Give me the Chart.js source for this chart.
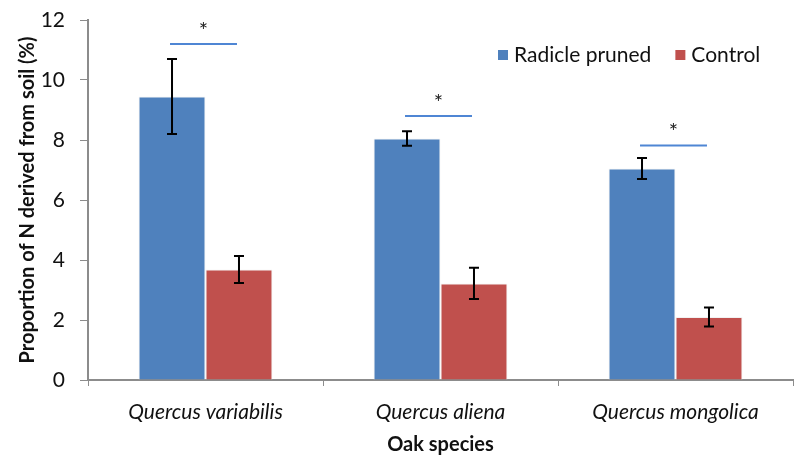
<!DOCTYPE html>
<html lang="en">
<head>
    <meta charset="UTF-8">
    <title>Proportion of N derived from soil</title>
    <script src="https://cdn.jsdelivr.net/npm/chart.js"></script>
    <style>
        html, body { margin: 0; padding: 0; background: #fff; }
        #wrap { position: relative; width: 794px; height: 455px; }
    </style>
</head>
<body>
    <div id="wrap">
        <canvas id="nChart" width="794" height="455"></canvas>
    </div>

    <script>
        // values
        const species = ['Quercus variabilis', 'Quercus aliena', 'Quercus mongolica'];
        const pruned = [9.45, 8.05, 7.05];
        const prunedErr = [1.25, 0.24, 0.35];
        const control = [3.68, 3.22, 2.1];
        const controlErr = [0.45, 0.52, 0.32];
        const sigLevel = [11.2, 8.8, 7.82];   // height of the "*" bars
        const yTicks = [0, 2, 4, 6, 8, 10, 12];

        const BLUE = '#4F81BD';
        const RED = '#C0504D';
        const AXIS = '#8c8c8c';
        const FONT = 'Lato, "Open Sans", sans-serif';

        const errs = [prunedErr, controlErr];

        // error bars + significance markers + legend inside the plot
        const extras = {
            id: 'extras',
            afterDatasetsDraw(chart) {
                const ctx = chart.ctx;
                const y = chart.scales.y;
                ctx.save();

                // error bars
                ctx.strokeStyle = '#000';
                ctx.lineWidth = 2;
                chart.data.datasets.forEach((ds, di) => {
                    chart.getDatasetMeta(di).data.forEach((bar, i) => {
                        const v = ds.data[i], e = errs[di][i];
                        const top = y.getPixelForValue(v + e);
                        const bot = y.getPixelForValue(v - e);
                        ctx.beginPath();
                        ctx.moveTo(bar.x, top); ctx.lineTo(bar.x, bot);
                        ctx.moveTo(bar.x - 5, top); ctx.lineTo(bar.x + 5, top);
                        ctx.moveTo(bar.x - 5, bot); ctx.lineTo(bar.x + 5, bot);
                        ctx.stroke();
                    });
                });

                // significance lines
                const m0 = chart.getDatasetMeta(0).data;
                const m1 = chart.getDatasetMeta(1).data;
                ctx.strokeStyle = '#4F86D4';
                ctx.lineWidth = 2;
                ctx.fillStyle = '#222';
                ctx.font = '22px ' + FONT;
                ctx.textAlign = 'center';
                ctx.textBaseline = 'middle';
                sigLevel.forEach((lv, i) => {
                    const py = y.getPixelForValue(lv);
                    const x1 = m0[i].x - 2, x2 = m1[i].x - 2;
                    ctx.beginPath();
                    ctx.moveTo(x1, py); ctx.lineTo(x2, py);
                    ctx.stroke();
                    ctx.fillText('*', (x1 + x2) / 2, py - 13);
                });

                // legend
                ctx.font = '21px ' + FONT;
                ctx.textAlign = 'left';
                let lx = 498;
                const ly = 55;
                chart.data.datasets.forEach(ds => {
                    ctx.fillStyle = ds.backgroundColor;
                    ctx.fillRect(lx, ly - 5, 10, 10);
                    ctx.fillStyle = '#111';
                    ctx.fillText(ds.label, lx + 16, ly);
                    lx += 16 + ctx.measureText(ds.label).width + 24;
                });

                ctx.restore();
            }
        };

        const ctx = document.getElementById('nChart').getContext('2d');
        const chart = new Chart(ctx, {
            type: 'bar',
            data: {
                labels: species,
                datasets: [
                    {
                        label: 'Radicle pruned',
                        data: pruned,
                        backgroundColor: BLUE,
                        borderColor: '#f2f2f2',
                        borderWidth: 1,
                        borderSkipped: 'bottom',
                        categoryPercentage: 0.57,
                        barPercentage: 1.0
                    },
                    {
                        label: 'Control',
                        data: control,
                        backgroundColor: RED,
                        borderColor: '#f2f2f2',
                        borderWidth: 1,
                        borderSkipped: 'bottom',
                        categoryPercentage: 0.57,
                        barPercentage: 1.0
                    }
                ]
            },
            plugins: [extras],
            options: {
                responsive: false,
                animation: false,
                layout: { padding: { top: 20, right: 1, left: 0, bottom: 0 } },
                plugins: {
                    legend: { display: false },
                    tooltip: { enabled: false }
                },
                scales: {
                    x: {
                        grid: { drawOnChartArea: false, drawTicks: true, tickLength: 6, color: AXIS, offset: true },
                        border: { color: AXIS, width: 2 },
                        ticks: {
                            color: '#111',
                            font: { family: FONT, size: 21, style: 'italic' },
                            padding: 14
                        },
                        title: {
                            display: true,
                            text: 'Oak species',
                            color: '#111',
                            font: { family: FONT, size: 20, weight: 'bold' },
                            padding: { top: 4, bottom: -2 }
                        },
                        afterFit(scale) { scale.height = 75; }
                    },
                    y: {
                        min: 0,
                        max: 12,
                        afterBuildTicks(scale) { scale.ticks = yTicks.map(v => ({ value: v })); },
                        grid: { drawOnChartArea: false, drawTicks: true, tickLength: 8, color: AXIS },
                        border: { color: AXIS, width: 2 },
                        ticks: {
                            color: '#111',
                            font: { family: FONT, size: 21 },
                            padding: 15
                        },
                        title: {
                            display: true,
                            text: 'Proportion of N derived from soil (%)',
                            color: '#111',
                            font: { family: FONT, size: 20, weight: 'bold' },
                            padding: { top: 16, bottom: 8 }
                        },
                        afterFit(scale) {
                            scale.width = 88;
                            scale.paddingTop = 0;
                            scale.paddingBottom = 0;
                        }
                    }
                }
            }
        });
    </script>
</body>
</html>
